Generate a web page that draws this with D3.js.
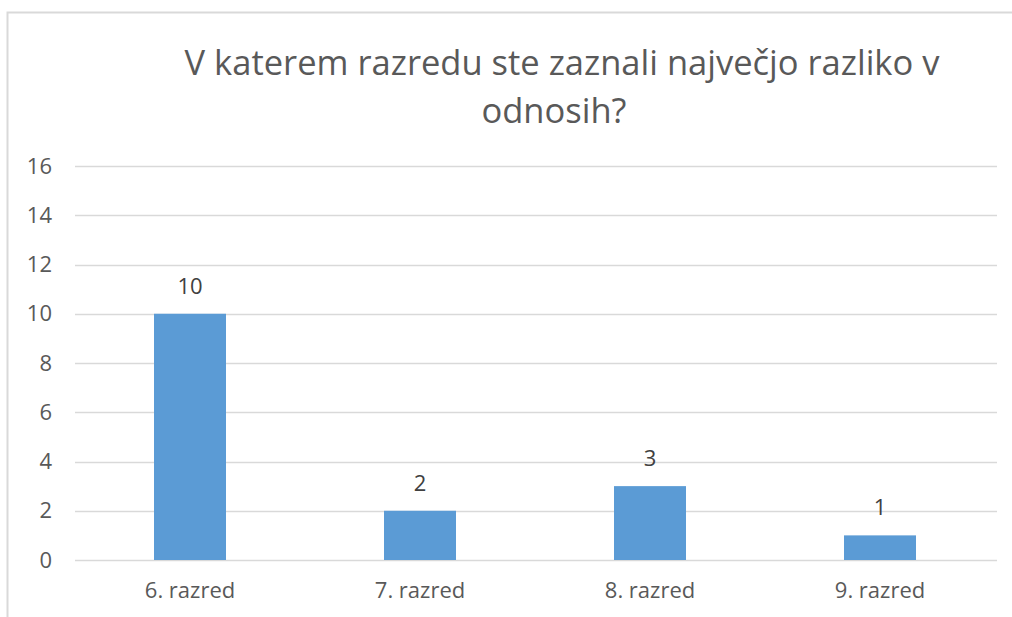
<!DOCTYPE html>
<html>
<head>
<meta charset="utf-8">
<script src="https://cdn.jsdelivr.net/npm/d3@7"></script>
<style>
  html, body { margin: 0; padding: 0; background: #fff; }
  svg { display: block; }
</style>
</head>
<body>
<svg id="chart" width="1012" height="617"></svg>
<script>
const titleLines = ["V katerem razredu ste zaznali največjo razliko v", "odnosih?"];
const categories = ["6. razred", "7. razred", "8. razred", "9. razred"];
const values = [10, 2, 3, 1];
const yTicks = [0, 2, 4, 6, 8, 10, 12, 14, 16];

const svg = d3.select("#chart");
const font = "'Open Sans', 'Liberation Sans', sans-serif";
const textColor = "#595959";

// frame
svg.append("rect")
  .attr("x", 7.5).attr("y", 12.5)
  .attr("width", 1030).attr("height", 640)
  .attr("fill", "#fff")
  .attr("stroke", "#d9d9d9").attr("stroke-width", 2);

const plot = { left: 75, right: 995, top: 166, bottom: 560 };

const x = d3.scaleBand()
  .domain(categories)
  .range([plot.left, plot.right])
  .paddingInner(0.687)
  .paddingOuter(0.3435);

const y = d3.scaleLinear()
  .domain([0, 16])
  .range([plot.bottom, plot.top]);

// gridlines
svg.append("g")
  .selectAll("line")
  .data(yTicks)
  .join("line")
  .attr("x1", plot.left).attr("x2", plot.right + 2)
  .attr("y1", d => Math.round(y(d)) + 0.5)
  .attr("y2", d => Math.round(y(d)) + 0.5)
  .attr("stroke", "#d9d9d9").attr("stroke-width", 1.3);

// y axis labels
const yAxis = d3.axisLeft(y).tickValues(yTicks).tickSize(0).tickPadding(0);
const yg = svg.append("g").attr("transform", "translate(52,0)").call(yAxis);
yg.select(".domain").remove();
yg.selectAll("text")
  .attr("fill", textColor)
  .style("font-family", font)
  .style("font-size", "22px");

// bars
svg.append("g")
  .selectAll("rect")
  .data(values)
  .join("rect")
  .attr("x", (d, i) => x(categories[i]))
  .attr("width", x.bandwidth())
  .attr("y", d => y(d))
  .attr("height", d => y(0) - y(d))
  .attr("fill", "#5b9bd5");

// value labels
svg.append("g")
  .selectAll("text")
  .data(values)
  .join("text")
  .attr("x", (d, i) => x(categories[i]) + x.bandwidth() / 2)
  .attr("y", d => y(d) - 20)
  .attr("text-anchor", "middle")
  .attr("fill", "#404040")
  .style("font-family", font)
  .style("font-size", "22px")
  .text(d => d);

// x axis labels
const xAxis = d3.axisBottom(x).tickSize(0).tickPadding(0);
const xg = svg.append("g").attr("transform", "translate(0,598)").call(xAxis);
xg.select(".domain").remove();
xg.selectAll("text")
  .attr("dy", 0)
  .attr("fill", textColor)
  .style("font-family", font)
  .style("font-size", "22px");

// title
svg.append("g")
  .selectAll("text")
  .data(titleLines)
  .join("text")
  .attr("x", (d, i) => i === 0 ? 562 : 554)
  .attr("y", (d, i) => 75 + i * 48)
  .attr("text-anchor", "middle")
  .attr("fill", textColor)
  .style("font-family", font)
  .style("font-size", "34.5px")
  .text(d => d);
</script>
</body>
</html>
